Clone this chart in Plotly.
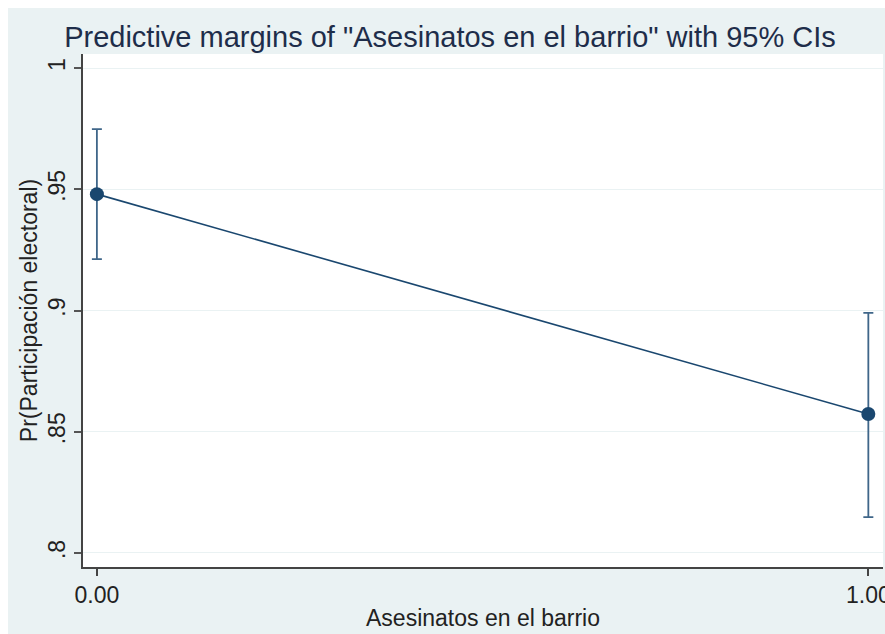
import plotly.graph_objects as go

# Predictive margins and 95% confidence limits
categories = [0.0, 1.0]
margins = [0.948, 0.8573]
ci_upper = [0.9748, 0.8990]
ci_lower = [0.9212, 0.8148]

y_tickvals = [0.8, 0.85, 0.9, 0.95, 1.0]
y_ticktext = [".8", ".85", ".9", ".95", "1"]
x_tickvals = [0.0, 1.0]
x_ticktext = ["0.00", "1.00"]

navy = "#1a476f"
bg = "#eaf2f3"
font_family = "Liberation Sans, Arial, sans-serif"

err_plus = [u - m for u, m in zip(ci_upper, margins)]
err_minus = [m - l for m, l in zip(margins, ci_lower)]

fig = go.Figure()
fig.add_trace(go.Scatter(
    x=categories,
    y=margins,
    mode="lines+markers",
    line=dict(color=navy, width=1.6),
    marker=dict(color=navy, size=14),
    error_y=dict(type="data", symmetric=False, array=err_plus, arrayminus=err_minus,
                 color="#3f6689", thickness=1.8, width=5),
    showlegend=False,
    cliponaxis=False,
))

# white border strips along the left and top edges of the graph region
pw, ph = 800, 513
white_strips = [
    dict(type="rect", xref="paper", yref="paper", layer="above",
         x0=-83 / pw, x1=-75 / pw, y0=-67 / ph, y1=1 + 54 / ph,
         fillcolor="white", line=dict(width=0)),
    dict(type="rect", xref="paper", yref="paper", layer="above",
         x0=-83 / pw, x1=1 + 2 / pw, y0=1 + 46 / ph, y1=1 + 54 / ph,
         fillcolor="white", line=dict(width=0)),
]

fig.update_layout(
    width=885,
    height=634,
    margin=dict(l=83, r=2, t=54, b=67),
    paper_bgcolor=bg,
    plot_bgcolor="white",
    font=dict(family=font_family, color="#1a1a1a"),
    title=dict(
        text='Predictive margins of "Asesinatos en el barrio" with 95% CIs',
        x=450 / 885, xanchor="center", xref="container",
        y=1 - 37 / 634, yanchor="middle", yref="container",
        font=dict(size=29, color="#1e2d4a", family=font_family),
    ),
    shapes=white_strips,
)

fig.update_xaxes(
    range=[-0.018, 1.019],
    tickvals=x_tickvals, ticktext=x_ticktext,
    ticks="outside", ticklen=7, tickwidth=1.5, tickcolor="#444",
    ticklabeloverflow="allow", automargin=False,
    showline=True, linecolor="#444", linewidth=1.5,
    showgrid=False, zeroline=False,
    tickfont=dict(size=23, color="#222"),
    title=dict(text="Asesinatos en el barrio", font=dict(size=23, color="#222"), standoff=3),
)
fig.update_yaxes(
    range=[0.7942, 1.0058],
    tickvals=y_tickvals, ticktext=y_ticktext, tickangle=-90,
    ticks="outside", ticklen=7, tickwidth=1.5, tickcolor="#555",
    automargin=False,
    showline=True, linecolor="#444", linewidth=1.5,
    showgrid=True, gridcolor=bg, gridwidth=1.2, zeroline=False,
    tickfont=dict(size=23, color="#222"),
    title=dict(text="Pr(Participación electoral)", font=dict(size=23, color="#222"), standoff=0),
)

fig.write_html("out.html")
